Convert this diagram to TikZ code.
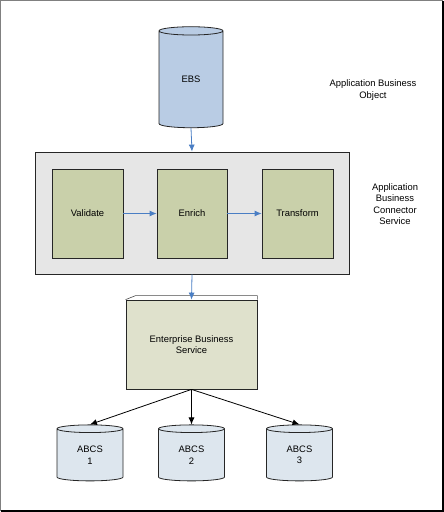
\documentclass[tikz,border=0pt]{standalone}
\usepackage{fontspec}
\setmainfont{Liberation Sans}
\usetikzlibrary{arrows.meta}
\usetikzlibrary{calc}
\usetikzlibrary{shapes.geometric}

\definecolor{dbblue}{RGB}{185,204,228}
\definecolor{stepgreen}{RGB}{201,208,170}
\definecolor{busgray}{RGB}{230,230,230}
\definecolor{svcgreen}{RGB}{223,225,204}
\definecolor{abcsblue}{RGB}{221,230,238}
\definecolor{flowblue}{RGB}{74,126,196}

\begin{document}
\begin{tikzpicture}[x=1pt, y=-1pt,
  font=\fontsize{9.4}{11.5}\selectfont,
  box/.style={draw=black!85, line width=0.8pt, align=center, inner sep=0pt},
  db/.style={box, cylinder, shape border rotate=90},
  flow/.style={-{Latex[length=7pt,width=6pt]}, draw=flowblue, line width=0.8pt},
  call/.style={-{Latex[length=7pt,width=6pt]}, draw=black, line width=0.8pt}]
\useasboundingbox (0, 0) rectangle (444, 512);
\draw[black!50, line width=1pt] (0.5, 511) -- (0.5, 0.5) -- (443, 0.5);
\draw[black, line width=1.5pt] (0.5, 511.2) -- (443.2, 511.2) -- (443.2, 0.5);

\node[db, fill=dbblue, minimum width=64pt, minimum height=101pt, aspect=0.44] (ebs) at (191, 79.5) {EBS};

\node[box, fill=busgray, minimum width=314pt, minimum height=122pt] (conn) at (192, 213) {};
\node[box, fill=stepgreen, minimum width=71pt, minimum height=89pt] (validate) at (87.5, 213.5) {Validate};
\node[box, fill=stepgreen, minimum width=70pt, minimum height=89pt] (enrich) at (192, 213.5) {Enrich};
\node[box, fill=stepgreen, minimum width=71pt, minimum height=89pt] (transform) at (297.5, 213.5) {Transform};

\node[box, fill=svcgreen, minimum width=131pt, minimum height=89pt] (svc) at (191.5, 344.5) {Enterprise Business\\Service};
\draw[black!70, line width=0.6pt] (svc.north west) -- ($(svc.north west)+(10,-4)$) -- ($(svc.north east)+(0,-4)$) -- (svc.north east);

\node[db, fill=abcsblue, minimum width=66pt, minimum height=56pt, aspect=0.3] (abcs1) at (90, 455) {ABCS\\1};
\node[db, fill=abcsblue, minimum width=66pt, minimum height=56pt, aspect=0.3] (abcs2) at (191.5, 455) {ABCS\\2};
\node[db, fill=abcsblue, minimum width=66pt, minimum height=56pt, aspect=0.3] (abcs3) at (299.5, 455) {ABCS\\3};

\node[align=center] (abolabel) at (373, 90) {Application Business\\Object};
\node[align=center] (abcslabel) at (395, 204) {Application\\Business\\Connector\\Service};

\draw[flow] (ebs.south) -- (conn.north);
\draw[flow] (validate) -- (enrich);
\draw[flow] (enrich) -- (transform);
\draw[flow] (conn.south) -- (svc.north);
\draw[call] (svc.south) -- (abcs1.north);
\draw[call] (svc.south) -- (abcs2.north);
\draw[call] (svc.south) -- (abcs3.north);
\end{tikzpicture}
\end{document}
